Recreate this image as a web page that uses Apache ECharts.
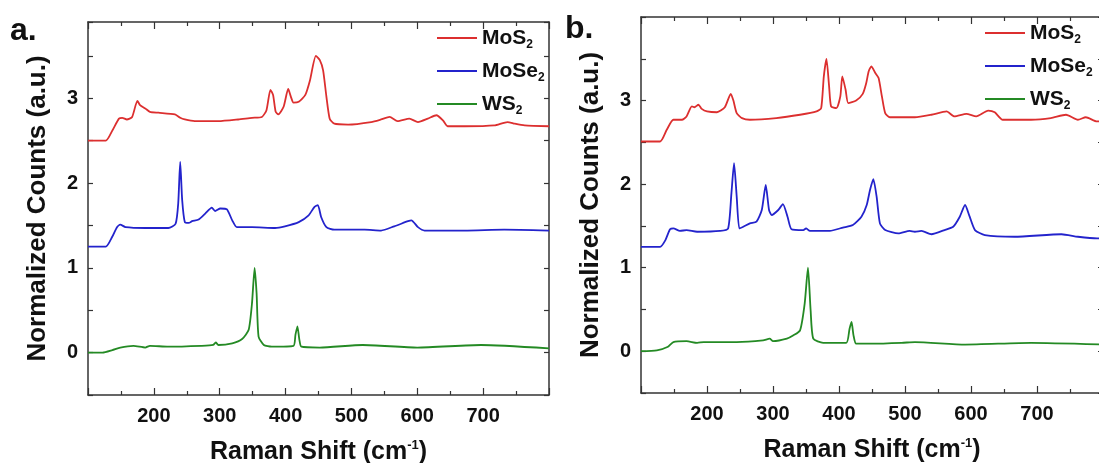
<!DOCTYPE html>
<html>
<head>
<meta charset="utf-8">
<script src="https://cdn.jsdelivr.net/npm/echarts@6/dist/echarts.min.js"></script>
<style>
html,body{margin:0;padding:0;background:#fff;}
#c{width:1099px;height:463px;}
</style>
</head>
<body>
<div id="c"></div>
<script>
// ---- data (Raman shift, cm^-1 / normalized counts) ----
var seriesNames = ['MoS2', 'MoSe2', 'WS2'];
var xTicks = [200, 300, 400, 500, 600, 700];
var yTicks = [0, 1, 2, 3];

// panel a
var aMoS2X = [100,127,137,147,152,159,167,175,179,187,194,207,232,240,247,262,298,328,349,364,371,377,381,385,389,397,404,408,412,420,430,437,446,452,457,462,467,474,495,530,545,558,570,588,601,616,629,639,646,672,717,737,748,763,800];
var aMoS2Y = [2.50,2.50,2.62,2.76,2.77,2.75,2.78,2.97,2.92,2.88,2.84,2.83,2.81,2.77,2.75,2.73,2.73,2.75,2.77,2.78,2.86,3.10,3.04,2.84,2.81,2.90,3.11,3.02,2.95,2.96,3.04,3.21,3.50,3.45,3.33,3.02,2.76,2.70,2.69,2.72,2.75,2.78,2.73,2.76,2.72,2.76,2.80,2.74,2.67,2.67,2.68,2.72,2.70,2.68,2.67];
var aMoSe2X = [100,127,137,144,149,157,187,222,233,237,240,243,247,253,258,268,278,288,293,301,311,319,326,349,384,399,420,435,444,449,454,462,474,520,545,565,586,591,601,611,672,732,800];
var aMoSe2Y = [1.25,1.25,1.37,1.48,1.51,1.48,1.47,1.47,1.52,1.76,2.25,1.80,1.54,1.53,1.55,1.57,1.64,1.71,1.67,1.70,1.69,1.56,1.48,1.48,1.47,1.49,1.54,1.62,1.72,1.74,1.60,1.48,1.45,1.45,1.44,1.49,1.55,1.56,1.48,1.44,1.44,1.45,1.44];
var aWS2X = [100,122,137,149,169,187,194,222,272,290,294,298,319,334,344,349,353,356,359,367,379,412,415,418,421,424,452,517,600,697,800];
var aWS2Y = [0.00,0.00,0.03,0.06,0.08,0.06,0.08,0.07,0.08,0.09,0.12,0.09,0.11,0.16,0.27,0.58,1.00,0.70,0.19,0.09,0.07,0.08,0.21,0.31,0.15,0.07,0.06,0.09,0.06,0.09,0.05];

// panel b
var bMoS2X = [100,129,139,149,162,169,177,181,187,192,200,215,227,236,240,245,253,265,305,341,366,373,377,381,385,388,396,402,405,410,414,426,436,441,445,449,455,460,465,470,477,515,540,563,575,593,608,626,636,648,691,721,744,762,774,791,800];
var bMoS2Y = [2.51,2.51,2.65,2.77,2.77,2.81,2.93,2.92,2.95,2.90,2.87,2.86,2.92,3.08,3.00,2.85,2.79,2.77,2.79,2.83,2.87,2.91,3.29,3.50,3.17,2.93,2.91,3.05,3.29,3.13,2.97,3.00,3.08,3.20,3.35,3.41,3.33,3.27,3.05,2.85,2.80,2.80,2.83,2.87,2.81,2.84,2.81,2.88,2.86,2.77,2.77,2.79,2.83,2.77,2.80,2.75,2.75];
var bMoSe2X = [100,129,137,144,149,159,169,185,220,232,237,241,245,249,255,265,275,283,289,294,298,308,315,322,328,346,350,356,386,406,421,434,442,447,452,457,462,470,490,507,515,525,540,560,573,583,591,598,606,621,666,737,762,791,800];
var bMoSe2Y = [1.25,1.25,1.33,1.46,1.47,1.44,1.45,1.43,1.44,1.47,1.89,2.25,1.85,1.47,1.49,1.53,1.55,1.69,1.99,1.69,1.63,1.69,1.76,1.61,1.46,1.45,1.47,1.44,1.44,1.48,1.51,1.61,1.75,1.93,2.06,1.85,1.53,1.45,1.41,1.44,1.43,1.44,1.40,1.45,1.49,1.61,1.75,1.61,1.45,1.39,1.37,1.40,1.37,1.35,1.35];
var bWS2X = [100,124,140,149,169,185,195,245,285,295,300,321,331,341,348,353,357,361,376,411,416,419,422,426,449,495,515,591,691,800];
var bWS2Y = [0.00,0.01,0.05,0.11,0.12,0.10,0.11,0.11,0.13,0.15,0.12,0.15,0.19,0.25,0.57,1.00,0.49,0.15,0.10,0.10,0.27,0.35,0.19,0.09,0.09,0.10,0.11,0.08,0.10,0.08];

var colors = ['#dc2f2f', '#2323cc', '#248a24'];

function zip(xs, ys) { return xs.map(function (x, i) { return [x, ys[i]]; }); }

var FONT = '"Liberation Sans", Arial, sans-serif';
var axisColor = '#333';

function xAxisPair(grid) {
  var base = {
    type: 'value', gridIndex: grid, min: 100, max: 800, interval: 100,
    axisLine: { show: true, onZero: false, lineStyle: { color: axisColor, width: 1.5 } },
    axisTick: { show: true, inside: true, length: 7, lineStyle: { color: axisColor, width: 1.2 } },
    minorTick: { show: true, splitNumber: 2, length: 4, lineStyle: { color: axisColor, width: 1.2 } },
    splitLine: { show: false }, minorSplitLine: { show: false }
  };
  var bottom = Object.assign({}, base, {
    position: 'bottom',
    axisLabel: {
      show: true, margin: 11, color: '#111', fontSize: 20, fontWeight: 'bold', fontFamily: FONT,
      formatter: function (v) { return xTicks.indexOf(v) >= 0 ? String(v) : ''; }
    },
    name: 'Raman Shift (cm{sup|-1})', nameLocation: 'middle', nameGap: 45,
    nameTextStyle: {
      color: '#111', fontSize: 25, fontWeight: 'bold', fontFamily: FONT,
      rich: { sup: { fontSize: 13, fontWeight: 'bold', fontFamily: FONT, color: '#111', lineHeight: 13, padding: [0, 0, 14, 0] } }
    }
  });
  var top = Object.assign({}, base, { position: 'top', axisLabel: { show: false } });
  return [bottom, top];
}

function yAxisPair(grid, ymax) {
  var base = {
    type: 'value', gridIndex: grid, min: -0.5, max: ymax, interval: 0.5,
    axisLine: { show: true, onZero: false, lineStyle: { color: axisColor, width: 1.5 } },
    axisTick: { show: true, inside: true, length: 5, lineStyle: { color: axisColor, width: 1.2 } },
    splitLine: { show: false }
  };
  var left = Object.assign({}, base, {
    position: 'left',
    axisLabel: {
      show: true, margin: 10, color: '#111', fontSize: 20, fontWeight: 'bold', fontFamily: FONT,
      formatter: function (v) { var r = Math.round(v * 10) / 10; return yTicks.indexOf(r) >= 0 ? String(r) : ''; }
    },
    name: 'Normalized Counts (a.u.)', nameLocation: 'middle', nameGap: 37,
    nameTextStyle: { color: '#111', fontSize: 26, fontWeight: 'bold', fontFamily: FONT }
  });
  var right = Object.assign({}, base, { position: 'right', axisLabel: { show: false } });
  return [left, right];
}

var xa = xAxisPair(0), xb = xAxisPair(1);
var ya = yAxisPair(0, 3.9), yb = yAxisPair(1, 4.0);

var panelData = [
  [zip(aMoS2X, aMoS2Y), zip(aMoSe2X, aMoSe2Y), zip(aWS2X, aWS2Y)],
  [zip(bMoS2X, bMoS2Y), zip(bMoSe2X, bMoSe2Y), zip(bWS2X, bWS2Y)]
];

var series = [];
panelData.forEach(function (sets, p) {
  sets.forEach(function (d, i) {
    series.push({
      type: 'line', name: seriesNames[i], data: d,
      xAxisIndex: p * 2, yAxisIndex: p * 2,
      symbol: 'none', smooth: 0.2,
      lineStyle: { color: colors[i], width: 1.8 },
      itemStyle: { color: colors[i] },
      silent: true
    });
  });
});

function legendAt(left, top) {
  return {
    data: seriesNames, orient: 'vertical', left: left, top: top,
    icon: 'rect', itemWidth: 40, itemHeight: 2, itemGap: 7, padding: 0, selectedMode: false,
    formatter: function (n) { return n.replace(/(\d)$/, '{sub|$1}'); },
    textStyle: {
      color: '#111', fontSize: 21, fontWeight: 'bold', fontFamily: FONT, lineHeight: 25,
      rich: { sub: { fontSize: 12, fontWeight: 'bold', fontFamily: FONT, color: '#111', lineHeight: 12, padding: [14, 0, 0, 0] } }
    }
  };
}

var option = {
  animation: false,
  backgroundColor: '#fff',
  title: [
    { text: 'a.', left: 10, top: 15, padding: 0, textStyle: { fontSize: 32, fontWeight: 'bold', fontFamily: FONT, color: '#111' } },
    { text: 'b.', left: 565, top: 13, padding: 0, textStyle: { fontSize: 32, fontWeight: 'bold', fontFamily: FONT, color: '#111' } }
  ],
  legend: [legendAt(437, 25), legendAt(985, 20)],
  grid: [
    { left: 88, top: 22, width: 461, height: 373, outerBoundsMode: 'none', containLabel: false },
    { left: 641, top: 17, width: 462, height: 376, outerBoundsMode: 'none', containLabel: false }
  ],
  xAxis: [xa[0], xa[1], xb[0], xb[1]],
  yAxis: [ya[0], ya[1], yb[0], yb[1]],
  series: series
};

var chart = echarts.init(document.getElementById('c'), null, { renderer: 'canvas' });
chart.setOption(option);
</script>
</body>
</html>
